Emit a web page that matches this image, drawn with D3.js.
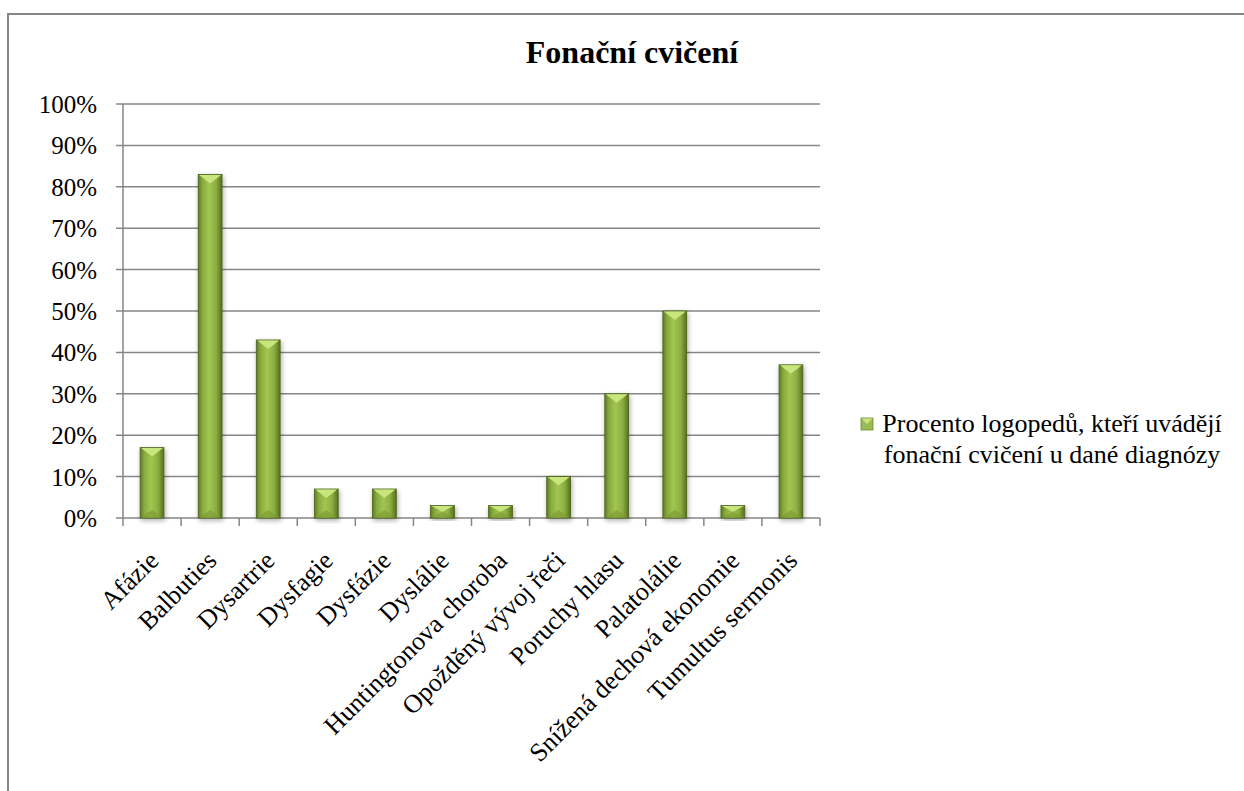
<!DOCTYPE html>
<html>
<head>
<meta charset="utf-8">
<script src="https://cdn.jsdelivr.net/npm/d3@7"></script>
<style>
  html, body { margin: 0; padding: 0; background: #fff; }
  svg { display: block; }
  text { font-family: "Liberation Serif", "Times New Roman", serif; fill: #000; }
</style>
</head>
<body>
<svg id="chart" width="1244" height="791"></svg>
<script>
const title = "Fonační cvičení";
const categories = ["Afázie", "Balbuties", "Dysartrie", "Dysfagie", "Dysfázie", "Dyslálie",
  "Huntingtonova choroba", "Opožděný vývoj řeči", "Poruchy hlasu", "Palatolálie",
  "Snížená dechová ekonomie", "Tumultus sermonis"];
const values = [0.17, 0.83, 0.43, 0.07, 0.07, 0.03, 0.03, 0.10, 0.30, 0.50, 0.03, 0.37];
const yTicks = [0, 0.1, 0.2, 0.3, 0.4, 0.5, 0.6, 0.7, 0.8, 0.9, 1.0];
const legendLines = ["Procento logopedů, kteří uvádějí", "fonační cvičení u dané diagnózy"];

const svg = d3.select("#chart");
const defs = svg.append("defs");

// chart frame (extends beyond viewport on right and bottom)
svg.append("rect").attr("x", 8).attr("y", 14).attr("width", 1300).attr("height", 900)
  .attr("fill", "#fff").attr("stroke", "#868686").attr("stroke-width", 2);

const plot = { left: 123, right: 820, top: 104, bottom: 518 };
const x = d3.scaleBand().domain(categories).range([plot.left, plot.right]).paddingInner(0.59).paddingOuter(0.295);
const xb = d3.scaleBand().domain(categories).range([plot.left, plot.right]).padding(0);
const y = d3.scaleLinear().domain([0, 1]).range([plot.bottom, plot.top]);

// gradients
const g1 = defs.append("linearGradient").attr("id", "barGrad").attr("x1", "0").attr("x2", "1").attr("y1", "0").attr("y2", "0");
g1.append("stop").attr("offset", "0%").attr("stop-color", "#5f7c25");
g1.append("stop").attr("offset", "18%").attr("stop-color", "#88ab3d");
g1.append("stop").attr("offset", "45%").attr("stop-color", "#a2c651");
g1.append("stop").attr("offset", "75%").attr("stop-color", "#8cae41");
g1.append("stop").attr("offset", "100%").attr("stop-color", "#556f20");
const filt = defs.append("filter").attr("id", "shadow").attr("x", "-30%").attr("y", "-10%").attr("width", "160%").attr("height", "130%");
filt.append("feGaussianBlur").attr("in", "SourceAlpha").attr("stdDeviation", 2.5).attr("result", "b");
filt.append("feOffset").attr("in", "b").attr("dx", 1).attr("dy", 2).attr("result", "o");
filt.append("feComponentTransfer").attr("in", "o").attr("result", "s")
  .append("feFuncA").attr("type", "linear").attr("slope", 0.35);
const fm = filt.append("feMerge");
fm.append("feMergeNode").attr("in", "s");
fm.append("feMergeNode").attr("in", "SourceGraphic");

// gridlines + tick marks
const grid = svg.append("g");
grid.selectAll("line").data(yTicks).join("line")
  .attr("x1", plot.left - 7).attr("x2", plot.right)
  .attr("y1", d => y(d)).attr("y2", d => y(d))
  .attr("stroke", "#868686").attr("stroke-width", 1.5);

// y axis line
svg.append("line").attr("x1", plot.left).attr("x2", plot.left).attr("y1", plot.top).attr("y2", plot.bottom)
  .attr("stroke", "#868686").attr("stroke-width", 1.5);

// y labels
svg.append("g").selectAll("text").data(yTicks).join("text")
  .attr("x", 97).attr("y", d => y(d) + 9)
  .attr("text-anchor", "end").attr("font-size", 25)
  .text(d => d3.format(".0%")(d));

// x axis
const boundaries = categories.map(c => xb(c)).concat([plot.right]);
svg.append("g").selectAll("line").data(boundaries).join("line")
  .attr("x1", d => d).attr("x2", d => d).attr("y1", plot.bottom).attr("y2", plot.bottom + 8)
  .attr("stroke", "#868686").attr("stroke-width", 1.5);

// bars
const bars = svg.append("g").selectAll("g").data(categories.map((c, i) => ({ c, v: values[i] }))).join("g")
  .attr("filter", "url(#shadow)");
bars.append("rect")
  .attr("x", d => x(d.c)).attr("y", d => y(d.v))
  .attr("width", x.bandwidth()).attr("height", d => y(0) - y(d.v))
  .attr("fill", "url(#barGrad)").attr("stroke", "#4a6119").attr("stroke-width", 0.8);
// top bevel triangle
bars.append("path")
  .attr("d", d => {
    const x0 = x(d.c), w = x.bandwidth(), t = y(d.v);
    const h = Math.min(9, (y(0) - t) / 2);
    return `M${x0 + 1},${t + 0.5} L${x0 + w - 1},${t + 0.5} L${x0 + w / 2},${t + h} Z`;
  })
  .attr("fill", "#c8e57e");
// bottom bevel (subtle)
bars.append("path")
  .attr("d", d => {
    const x0 = x(d.c), w = x.bandwidth(), b = y(0);
    const h = Math.min(8, (y(0) - y(d.v)) / 2);
    return `M${x0 + 1},${b - 0.5} L${x0 + w - 1},${b - 0.5} L${x0 + w / 2},${b - h} Z`;
  })
  .attr("fill", "#7d9c35").attr("opacity", 0.7);

// x labels
svg.append("g").selectAll("text").data(categories).join("text")
  .attr("transform", c => `translate(${xb(c) + xb.bandwidth() / 2 + 8},${plot.bottom + 44}) rotate(-45)`)
  .attr("text-anchor", "end").attr("font-size", 26)
  .text(c => c);

// title
svg.append("text").attr("x", 632).attr("y", 63).attr("text-anchor", "middle")
  .attr("font-size", 32).attr("font-weight", "bold").text(title);

// legend
const lg = svg.append("g");
lg.append("rect").attr("x", 861).attr("y", 418).attr("width", 12).attr("height", 12)
  .attr("fill", "#9bbb59").attr("stroke", "#6e8a2e").attr("stroke-width", 0.8);
lg.append("path").attr("d", "M861.5,418.5 L872.5,418.5 L867,424 Z").attr("fill", "#c8e57e");
lg.selectAll("text").data(legendLines).join("text")
  .attr("x", 1052).attr("y", (d, i) => 432 + i * 31)
  .attr("text-anchor", "middle").attr("font-size", 26)
  .text(d => d);
</script>
</body>
</html>
